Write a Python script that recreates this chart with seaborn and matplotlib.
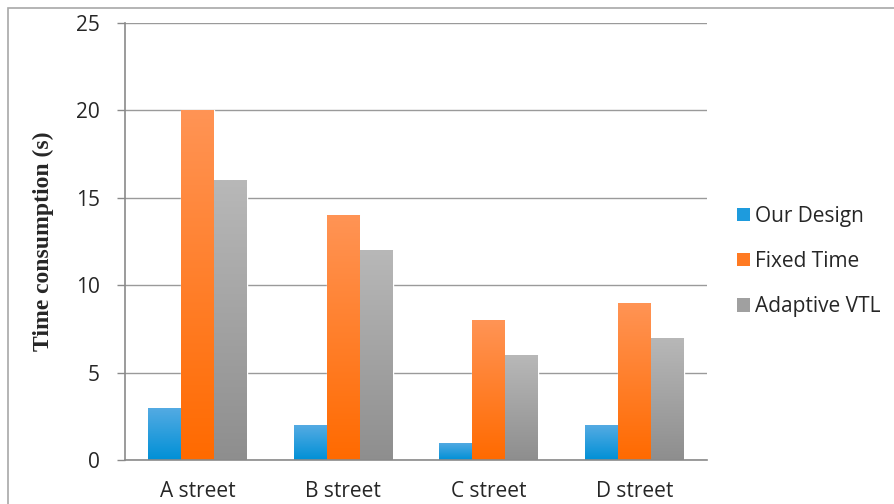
import numpy as np
import pandas as pd
import matplotlib
matplotlib.use("Agg")
import matplotlib.pyplot as plt
import seaborn as sns
from matplotlib.patches import Patch, Rectangle
from matplotlib.colors import LinearSegmentedColormap

streets = ["A street", "B street", "C street", "D street"]
series = ["Our Design", "Fixed Time", "Adaptive VTL"]
our_design = [3, 2, 1, 2]
fixed_time = [20, 14, 8, 9]
adaptive_vtl = [16, 12, 6, 7]
y_ticks = [0, 5, 10, 15, 20, 25]

df = pd.DataFrame({
    "street": streets * 3,
    "series": [series[0]] * 4 + [series[1]] * 4 + [series[2]] * 4,
    "value": our_design + fixed_time + adaptive_vtl,
})

top_cols = {"Our Design": "#55ABE3", "Fixed Time": "#FF9455", "Adaptive VTL": "#B8B8B8"}
bot_cols = {"Our Design": "#0090D6", "Fixed Time": "#FF6A00", "Adaptive VTL": "#8E8E8E"}
mid_cols = {"Our Design": "#1E9BDD", "Fixed Time": "#FF7A22", "Adaptive VTL": "#A0A0A0"}

sns.set_style("white")
plt.rcParams["font.family"] = ["Open Sans", "DejaVu Sans"]

fig = plt.figure(figsize=(8.94, 5.04), dpi=100)
ax = fig.add_axes([125 / 894, 1 - 460 / 504, (707 - 125) / 894, (460 - 23) / 504])

sns.barplot(data=df, x="street", y="value", hue="series", order=streets,
            hue_order=series, palette=mid_cols, width=0.68, ax=ax,
            legend=False, errorbar=None, saturation=1)

# gradient fill on each bar
for i, container in enumerate(ax.containers):
    name = series[i]
    cmap = LinearSegmentedColormap.from_list(name, [bot_cols[name], top_cols[name]])
    for patch in container.patches:
        x0, y0 = patch.get_x(), patch.get_y()
        w, h = patch.get_width(), patch.get_height()
        grad = np.linspace(0, 1, 256).reshape(-1, 1)
        im = ax.imshow(grad, cmap=cmap, origin="lower", aspect="auto",
                       extent=[x0, x0 + w, y0, y0 + h], zorder=patch.get_zorder() + 0.1)
        im.set_clip_path(patch)
ax.set_xlim(-0.5, 3.5)
ax.set_ylim(0, 25)

ax.set_yticks(y_ticks)
ax.set_yticklabels([str(t) for t in y_ticks], fontsize=15)
ax.grid(axis="y", color="#9A9A9A", linewidth=1.0)
ax.set_axisbelow(True)
ax.set_xticks(range(4))
ax.set_xticklabels(streets, fontsize=15)
ax.set_xticks([-0.5, 0.5, 1.5, 2.5, 3.5], minor=True)
ax.tick_params(axis="x", which="major", length=0, pad=15)
ax.tick_params(axis="x", which="minor", length=7, color="#8A8A8A", width=1, direction="out")
ax.tick_params(axis="y", length=6, color="#8A8A8A", width=1, direction="out", pad=12, left=True)
ax.set_xlabel("")
ax.set_ylabel("Time consumption (s)", fontsize=17, fontweight="bold",
              family="Liberation Serif", labelpad=16)
for s in ["top", "right"]:
    ax.spines[s].set_visible(False)
for s in ["left", "bottom"]:
    ax.spines[s].set_color("#8A8A8A")
    ax.spines[s].set_linewidth(1.2)

handles = [Patch(facecolor=mid_cols[n], edgecolor="none", label=n) for n in series]
fig.legend(handles=handles, loc="upper left", bbox_to_anchor=(718 / 894, 1 - 187 / 504),
           frameon=False, fontsize=15, handlelength=0.62, handleheight=0.62,
           handletextpad=0.25, labelspacing=1.16)

fig.patches.append(Rectangle((8 / 894, -0.1), 2, 1.1 - 8 / 504, transform=fig.transFigure,
                             fill=False, edgecolor="#A8A8A8", linewidth=1.2))

fig.savefig("out.png", dpi=100)
